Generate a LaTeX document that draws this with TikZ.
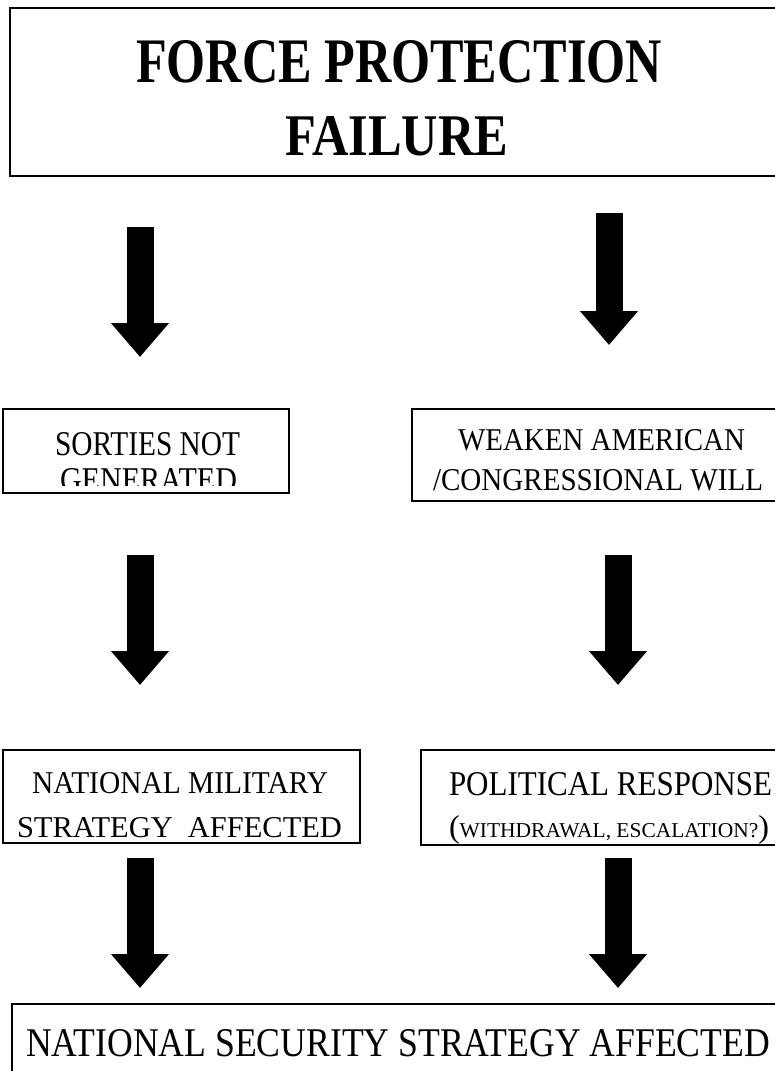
\documentclass[tikz,border=0pt]{standalone}
\usepackage{fontspec}
\setmainfont{Liberation Serif}
\usepackage{graphicx}
\usetikzlibrary{arrows.meta}
\tikzset{
  box/.style={draw, line width=1.6pt, anchor=north west, inner sep=0pt, outer sep=0pt},
  lbl/.style={anchor=base west, inner sep=0pt, outer sep=0pt},
  bigarrow/.style={line width=27pt, -{Triangle[width=56pt,length=34pt]}},
}
\newcommand{\fitline}[3]{\resizebox{#1pt}{#2pt}{\fontsize{20}{24}\selectfont #3}}
\begin{document}
\begin{tikzpicture}[x=1pt,y=-1pt]
\useasboundingbox (0,0) rectangle (774,1071);
\fill[white] (0,0) rectangle (774,1071);

% boxes
\node[box, minimum width=780pt, minimum height=168pt] (top) at (10,8) {};
\node[box, minimum width=286pt, minimum height=84pt] (sorties) at (3,409) {};
\node[box, minimum width=380pt, minimum height=92pt] (weaken) at (412,409) {};
\node[box, minimum width=357pt, minimum height=93pt] (natmil) at (3,750) {};
\node[box, minimum width=370pt, minimum height=95pt] (polresp) at (421,750) {};
\node[box, minimum width=780pt, minimum height=80pt] (natsec) at (12,1004) {};

% texts
\node[lbl] (ttop1) at (136,82) {\fitline{526}{42}{\bfseries FORCE PROTECTION}};
\node[lbl] (ttop2) at (285,155) {\fitline{223}{39}{\bfseries FAILURE}};
\node[lbl] (tsort1) at (55,455) {\fitline{185}{23}{SORTIES NOT}};
\begin{scope}
  \clip (0,400) rectangle (300,485);
  \node[lbl] (tsort2) at (60,491) {\fitline{177}{23}{GENERATED}};
\end{scope}
\node[lbl] (tweak1) at (458,450) {\fitline{287}{21}{WEAKEN AMERICAN}};
\node[lbl] (tweak2) at (433,490) {\fitline{330}{21}{\smash{/}CONGRESSIONAL WILL}};
\node[lbl] (tnm1) at (32,793) {\fitline{296}{21}{NATIONAL MILITARY}};
\node[lbl] (tnm2) at (17,837) {\fitline{325}{20}{STRATEGY\hspace{0.5em}AFFECTED}};
\node[lbl] (tpol1) at (449,795) {\fitline{323}{23}{POLITICAL RESPONSE}};
\node[lbl] (tpol2) at (449,837) {\fitline{320}{14}{{\fontsize{30}{30}\selectfont\smash{(}}WITHDRAWAL, ESCALATION?{\fontsize{30}{30}\selectfont\smash{)}}}};
\node[lbl] (tns) at (26,1056) {\fitline{744}{27}{NATIONAL SECURITY STRATEGY AFFECTED}};

% arrow end points
\coordinate (l1s) at (140,227); \coordinate (l1e) at (140,357);
\coordinate (r1s) at (609,213); \coordinate (r1e) at (609,345);
\coordinate (l2s) at (140,555); \coordinate (l2e) at (140,685);
\coordinate (r2s) at (618,555); \coordinate (r2e) at (618,685);
\coordinate (l3s) at (140,858); \coordinate (l3e) at (140,988);
\coordinate (r3s) at (618,858); \coordinate (r3e) at (618,988);

\draw[bigarrow] (l1s) -- (l1e);
\draw[bigarrow] (r1s) -- (r1e);
\draw[bigarrow] (l2s) -- (l2e);
\draw[bigarrow] (r2s) -- (r2e);
\draw[bigarrow] (l3s) -- (l3e);
\draw[bigarrow] (r3s) -- (r3e);
\end{tikzpicture}
\end{document}
